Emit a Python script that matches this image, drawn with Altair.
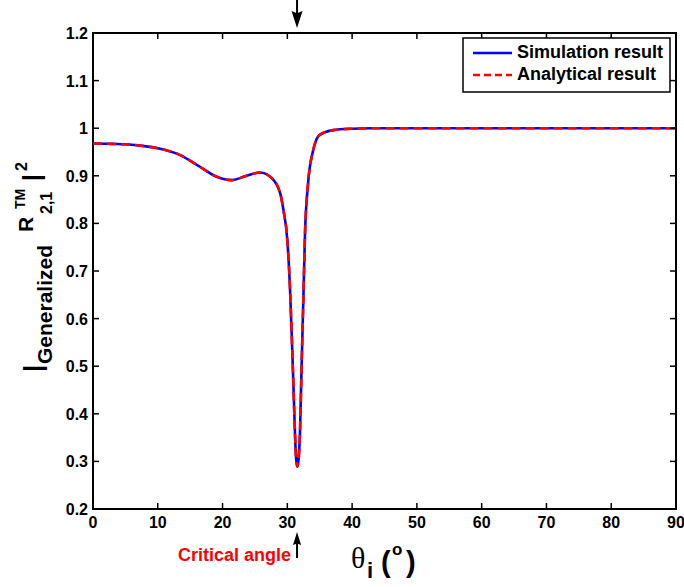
import altair as alt
import pandas as pd

# ---- data ----
theta = [0, 3, 7, 10, 13.4, 16.5, 19.1, 21.4, 23.7, 25.8, 27.6, 28.9, 29.4, 30.0,
         30.4, 30.67, 30.93, 31.18, 31.36, 31.54, 31.74, 31.95, 32.2, 32.47, 32.73,
         33.2, 34.0, 35.0, 37.1, 40, 42.8, 50, 60, 70, 80, 90]
r_sim = [0.968, 0.967, 0.964, 0.958, 0.944, 0.919, 0.898, 0.891, 0.900, 0.907,
         0.895, 0.863, 0.828, 0.765, 0.667, 0.569, 0.464, 0.359, 0.305, 0.289,
         0.305, 0.359, 0.499, 0.639, 0.779, 0.884, 0.954, 0.986, 0.996, 0.999,
         1.0, 1.0, 1.0, 1.0, 1.0, 1.0]
r_ana = [0.968, 0.967, 0.964, 0.958, 0.944, 0.919, 0.898, 0.891, 0.900, 0.907,
         0.895, 0.863, 0.828, 0.765, 0.667, 0.569, 0.464, 0.359, 0.305, 0.289,
         0.305, 0.359, 0.499, 0.639, 0.779, 0.884, 0.954, 0.986, 0.996, 0.999,
         1.0, 1.0, 1.0, 1.0, 1.0, 1.0]
series_names = ["Simulation result", "Analytical result"]
x_ticks = [0, 10, 20, 30, 40, 50, 60, 70, 80, 90]
x_tick_labels = ["0", "10", "20", "30", "40", "50", "60", "70", "80", "90"]
y_ticks = [0.2, 0.3, 0.4, 0.5, 0.6, 0.7, 0.8, 0.9, 1.0, 1.1, 1.2]
y_tick_labels = ["0.2", "0.3", "0.4", "0.5", "0.6", "0.7", "0.8", "0.9", "1", "1.1", "1.2"]
critical_angle = [31.5]

W, H = 583, 476
FONT = "Liberation Sans"

xs = alt.Scale(domain=[0, 90], nice=False)
ys = alt.Scale(domain=[0.2, 1.2], nice=False)

df_sim = pd.DataFrame({"theta": theta, "R": r_sim})
df_ana = pd.DataFrame({"theta": theta, "R": r_ana})

sim = alt.Chart(df_sim).mark_line(color="#0000ff", strokeWidth=2.6, interpolate="monotone").encode(
    x=alt.X("theta:Q", scale=xs, axis=None),
    y=alt.Y("R:Q", scale=ys, axis=None),
)
ana = alt.Chart(df_ana).mark_line(color="#ff0000", strokeWidth=2.6, strokeDash=[9, 5],
                                  interpolate="monotone").encode(
    x=alt.X("theta:Q", scale=xs, axis=None), y=alt.Y("R:Q", scale=ys, axis=None))

# inward ticks on all four sides, and bold tick labels
dfx = pd.DataFrame({"theta": x_ticks, "lab": x_tick_labels})
dfy = pd.DataFrame({"R": y_ticks, "lab": y_tick_labels})
tk = dict(color="black", strokeWidth=1.5)
X = alt.X("theta:Q", scale=xs, axis=None)
Y = alt.Y("R:Q", scale=ys, axis=None)
xt_b = alt.Chart(dfx).mark_rule(**tk).encode(x=X, y=alt.value(H), y2=alt.value(H - 6))
xt_t = alt.Chart(dfx).mark_rule(**tk).encode(x=X, y=alt.value(0), y2=alt.value(6))
yt_l = alt.Chart(dfy).mark_rule(**tk).encode(y=Y, x=alt.value(0), x2=alt.value(6))
yt_r = alt.Chart(dfy).mark_rule(**tk).encode(y=Y, x=alt.value(W), x2=alt.value(W - 6))
xl = alt.Chart(dfx).mark_text(font=FONT, fontWeight="bold", fontSize=16, color="black",
                              align="center", baseline="alphabetic").encode(
    x=X, y=alt.value(H + 19), text="lab:N")
yl = alt.Chart(dfy).mark_text(font=FONT, fontWeight="bold", fontSize=16, color="black",
                              align="right", baseline="alphabetic", dy=6).encode(
    y=Y, x=alt.value(-5), text="lab:N")


def txt(s, x, y, size, angle=0, font=FONT, weight="bold", color="black", baseline="alphabetic"):
    return alt.Chart(pd.DataFrame({"t": [s]})).mark_text(
        align="left", baseline=baseline, angle=angle, font=font, fontSize=size,
        fontWeight=weight, color=color).encode(x=alt.value(x), y=alt.value(y), text="t:N")


# y-axis title pieces: |Generalized R^TM_2,1|^2 (rotated)
ytitle = [
    txt("|", -51, 339, 26, angle=270),
    txt("Generalized", -41, 331, 21, angle=270),
    txt("R", -60, 199, 21, angle=270),
    txt("TM", -68, 176, 14, angle=270),
    txt("2,1", -41, 181, 16, angle=270),
    txt("|", -53, 148, 24, angle=270),
    txt("2", -66, 138, 16, angle=270),
]
# x-axis title pieces: theta_i (^o)
xtitle = [
    txt("θ", 258, 535, 30, font="Liberation Serif", weight="normal"),
    txt("i", 274, 545, 22),
    txt("(", 288, 539, 29),
    txt("o", 299, 522, 17),
    txt(")", 313, 539, 29),
]
crit = txt("Critical angle", 85, 528, 18, color="#ff0000")

# arrows at the critical angle
dfc = pd.DataFrame({"theta": critical_angle})
down_shaft = alt.Chart(dfc).mark_rule(color="black", strokeWidth=2).encode(
    x=X, y=alt.value(-33), y2=alt.value(-17))
down_head = alt.Chart(dfc).mark_point(shape="M0,1L-0.65,-1L0,-0.75L0.65,-1Z", filled=True, opacity=1,
                                      color="black", size=289, strokeWidth=0).encode(
    x=X, y=alt.value(-13.5))
up_shaft = alt.Chart(dfc).mark_rule(color="black", strokeWidth=2).encode(
    x=X, y=alt.value(507), y2=alt.value(525))
up_head = alt.Chart(dfc).mark_point(shape="M0,-1L-0.62,1L0,0.75L0.62,1Z", filled=True, opacity=1,
                                    color="black", size=169, strokeWidth=0).encode(
    x=X, y=alt.value(505.5))

# legend
box = alt.Chart(pd.DataFrame({"s": [0]})).mark_rect(fill="white", stroke="black", strokeWidth=1.5).encode(
    x=alt.value(370), x2=alt.value(577), y=alt.value(5), y2=alt.value(59))
leg_blue = alt.Chart(pd.DataFrame({"s": [0]})).mark_rule(color="#0000ff", strokeWidth=2.6).encode(
    x=alt.value(380), x2=alt.value(419), y=alt.value(20))
leg_red = alt.Chart(pd.DataFrame({"s": [0]})).mark_rule(color="#ff0000", strokeWidth=2.6, strokeDash=[7, 4]).encode(
    x=alt.value(380), x2=alt.value(419), y=alt.value(42))
leg_t1 = txt(series_names[0], 424, 20, 18, baseline="middle")
leg_t2 = txt(series_names[1], 424, 42, 18, baseline="middle")

chart = alt.layer(
    sim, ana, xt_b, xt_t, yt_l, yt_r, xl, yl, *ytitle, *xtitle, crit,
    down_shaft, down_head, up_shaft, up_head,
    box, leg_blue, leg_red, leg_t1, leg_t2,
).properties(
    width=W, height=H,
    autosize=alt.AutoSizeParams(type="none"),
    padding={"left": 93, "top": 33, "right": 8, "bottom": 78},
).configure(background="white").configure_view(
    stroke="black", strokeWidth=2
)

chart.save("out.html", embed_options={"renderer": "svg", "actions": False})
